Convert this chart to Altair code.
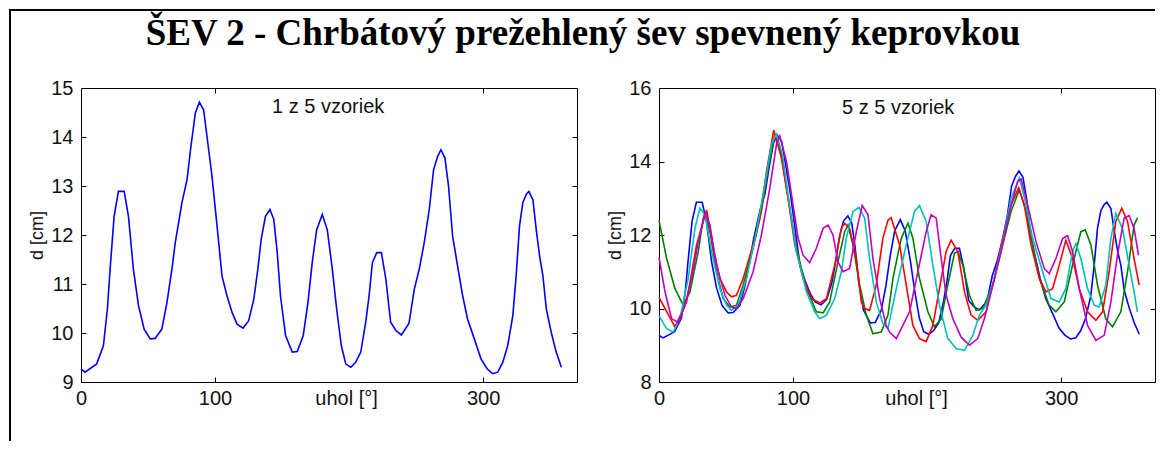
import altair as alt
import pandas as pd

TITLE = "ŠEV 2 - Chrbátový prežehlený šev spevnený keprovkou"
X_LABEL = "uhol [°]"
Y_LABEL = "d [cm]"
LEFT_NOTE = "1 z 5 vzoriek"
RIGHT_NOTE = "5 z 5 vzoriek"

X_TICKS = [0, 100, 200, 300]
X_TICKS_TOP = [100, 300]
LEFT_Y_TICKS = [9, 10, 11, 12, 13, 14, 15]
LEFT_Y_INNER = [10, 11, 12, 13, 14]
RIGHT_Y_TICKS = [8, 10, 12, 14, 16]
RIGHT_Y_INNER = [10, 12, 14]

SERIES = ["s1", "s2", "s3", "s4", "s5"]
COLORS = ["#0000FF", "#008000", "#FF0000", "#00BFBF", "#BF00BF"]

# sample 1 (blue) - shown alone in the left panel
s1_deg = [0, 3, 11.7, 16.7, 19.7, 21.7, 24.7, 27.9, 32.2, 35.4, 39.1, 42.9, 47.1, 51.6, 55.3,
          60.3, 64.1, 67.8, 70.3, 75.3, 79.1, 82.0, 85.3, 88.3, 91.5, 94.0, 97.7, 101.5, 105.2,
          108.9, 112.7, 116.4, 120.9, 125.1, 128.9, 131.9, 134.4, 137.6, 140.9, 143.8, 146.4,
          148.8, 152.6, 157.6, 161.3, 165.8, 169.3, 172.5, 175.8, 180.0, 183.7, 187.5, 190.7,
          194.2, 197.5, 201.2, 204.9, 208.7, 212.4, 214.9, 217.4, 220.6, 224.1, 227.4, 231.0,
          234.9, 239.0, 244.7, 248.6, 252.3, 256.0, 259.8, 263.0, 266.0, 268.5, 271.5, 274.2,
          277.2, 280.9, 284.7, 288.4, 293.4, 298.4, 302.9, 307.1, 310.9, 314.6, 318.3, 322.1,
          324.6, 327.1, 329.6, 332.1, 334.1, 337.1, 339.6, 342.1, 344.6, 347.1, 350.8, 354.5, 358.3]
s1_d = [9.27, 9.20, 9.37, 9.74, 10.49, 11.30, 12.38, 12.89, 12.89, 12.38, 11.30, 10.56, 10.08, 9.88, 9.89,
        10.08, 10.62, 11.30, 11.84, 12.66, 13.13, 13.81, 14.49, 14.71, 14.55, 14.01, 13.20, 12.18, 11.16,
        10.76, 10.42, 10.18, 10.10, 10.25, 10.69, 11.30, 11.91, 12.38, 12.52, 12.32, 11.64,
        10.76, 9.95, 9.61, 9.62, 9.95, 10.62, 11.44, 12.11, 12.42, 12.11, 11.30, 10.49,
        9.74, 9.37, 9.30, 9.40, 9.61, 10.22, 10.76, 11.44, 11.64, 11.64, 11.10, 10.22,
        10.05, 9.96, 10.20, 10.89, 11.30, 11.84, 12.52, 13.33, 13.60, 13.74, 13.57, 12.99,
        11.98, 11.37, 10.76, 10.28, 9.88, 9.47, 9.27, 9.17, 9.20, 9.40, 9.74, 10.35,
        11.16, 12.18, 12.66, 12.83, 12.89, 12.72, 12.11, 11.57, 11.16, 10.49, 10.01, 9.61, 9.30]

# sample 2 (green)
s2_deg = [0, 5.7, 11.9, 18.1, 23.1, 29.3, 33, 34.3, 38, 42.9, 47.9, 52.9, 57.8, 62.8, 70.2, 76.4,
          81.4, 86.4, 91.3, 96.3, 102.5, 110, 117.4, 122.4, 127.3, 133.5, 138.5, 141, 144.7, 149.7,
          154.6, 159.6, 165.8, 170.8, 174.5, 180.7, 185.7, 189.4, 194.3, 200.6, 205.5, 210.5, 215.4,
          220.4, 222.9, 226.6, 231.6, 236.5, 241.5, 249, 256.4, 262.6, 268.8, 273.8, 278.7, 283.7,
          291.1, 296.1, 302.3, 308.5, 314.7, 318, 322.2, 327.1, 333.3, 338.3, 344.5, 349.5, 354.4, 356.9]
s2_d = [12.4, 11.36, 10.54, 10.09, 10.45, 11.55, 12.46, 12.59, 12.09, 11.0, 10.27, 10.04, 10.09, 10.64, 11.64, 12.64,
        13.82, 14.73, 14.19, 13.0, 11.64, 10.54, 9.91, 9.88, 10.18, 11.27, 12.09, 12.27, 11.73, 10.64,
        9.82, 9.31, 9.36, 9.82, 10.82, 11.91, 12.32, 11.91, 10.82, 9.91, 9.5, 9.72, 10.64,
        11.5, 11.55, 11.18, 10.36, 9.95, 10.0, 10.64, 11.73, 12.64, 13.23, 12.64, 11.73, 10.82,
        10.09, 9.91, 10.18, 11.18, 12.09, 12.14, 11.73, 10.64, 9.72, 9.5, 9.91, 11.0, 12.27, 12.47]

# sample 3 (red)
s3_deg = [0, 11.9, 20.6, 28, 35.5, 40.5, 45.4, 50.4, 54.1, 57.8, 62.8, 70.2, 75.2, 80.2, 85.6, 91.3,
          96.3, 101.3, 107.5, 113.7, 119.9, 124.9, 131.1, 136, 138.5, 142.2, 147.2, 150.9, 153.4, 157.1,
          162.1, 167, 170.8, 173.2, 179.5, 184.4, 189.4, 194.3, 199.3, 204.3, 209.2, 214.2, 217.9,
          222.9, 227.9, 232.8, 237.8, 244, 250.2, 256.4, 262.6, 268.3, 272.5, 277.5, 283.7, 288.7,
          293.6, 298.6, 303.5, 308.5, 313.5, 319.7, 325.9, 330.9, 335.8, 340.8, 345.2, 349.5, 354.4, 358.2]
s3_d = [10.3, 9.5, 10.18, 11.73, 12.68, 11.64, 10.82, 10.45, 10.32, 10.36, 10.82, 11.73, 12.46, 13.73, 14.85, 14.10,
        13.0, 11.73, 10.82, 10.27, 10.15, 10.27, 11.18, 12.18, 12.32, 12.18, 11.36, 10.18, 10.0, 9.95,
        10.64, 11.91, 12.4, 12.47, 11.73, 10.64, 9.54, 9.18, 9.1, 9.54, 10.54, 11.55, 11.86,
        11.55, 10.45, 9.82, 9.68, 9.91, 10.82, 11.91, 12.82, 13.28, 12.82, 11.73, 10.82, 10.45,
        10.54, 11.18, 11.86, 11.36, 10.54, 9.91, 9.68, 9.91, 11.0, 12.37, 12.73, 12.37, 11.36, 10.64]

# sample 4 (cyan)
s4_deg = [0, 5.7, 10.7, 15.6, 21.8, 26.8, 30.5, 34.3, 39.2, 45.4, 50.4, 54.1, 59.1, 65.3, 72.7, 78.9,
          83.9, 87.6, 92.1, 97, 102.5, 110, 116.2, 119.9, 124.9, 131.1, 136, 139.7, 144.7, 149.2,
          153.4, 157.1, 162.1, 167, 170.8, 177, 184.4, 190.6, 194.3, 199.3, 204.3, 209.2, 215.4,
          221.7, 227.9, 234.1, 239, 244, 250.2, 256.4, 262.6, 268.8, 273.8, 278.7, 286.2, 292.4,
          298.6, 303.5, 308.5, 311, 314.7, 319.7, 324.7, 328.4, 333.3, 337.1, 340.8, 345.7, 350.7, 354.4, 356.9]
s4_d = [9.8, 9.45, 9.36, 9.72, 10.82, 12.18, 12.73, 12.55, 11.55, 10.54, 10.09, 9.95, 10.09, 10.82, 12.09, 13.37,
        14.46, 14.75, 14.19, 12.91, 11.55, 10.45, 9.91, 9.72, 9.82, 10.27, 11.0, 11.91, 12.64, 12.75,
        12.46, 11.36, 10.18, 9.59, 9.45, 10.54, 11.73, 12.64, 12.8, 12.37, 11.18, 10.09, 9.18,
        8.91, 8.86, 9.27, 9.82, 10.09, 10.82, 11.82, 13.0, 13.55, 12.82, 11.91, 11.0, 10.27,
        10.18, 10.54, 11.55, 11.77, 11.36, 10.54, 10.09, 10.04, 10.64, 11.91, 12.59, 12.18, 11.18, 10.45, 9.91]

# sample 5 (magenta)
s5_deg = [0, 4.5, 9.4, 14.4, 19.4, 24.3, 29.3, 34.3, 38, 42.9, 49.2, 54.1, 57.8, 62.8, 70.2, 76.4,
          82.7, 87.6, 90.1, 95.1, 100, 103.8, 107.5, 112.4, 117.4, 122.4, 126.1, 129.8, 133.5, 137.3,
          142.2, 147.2, 151.6, 155.9, 159.6, 164.6, 169.5, 172, 177, 186.9, 193.1, 199.3, 203, 206.8,
          210.5, 214.2, 219.2, 225.4, 231.6, 237.8, 242.7, 249, 255.2, 261.4, 267.6, 270.1, 275, 281.2,
          287.4, 291.1, 296.1, 301.1, 304.8, 308.5, 313.5, 319.7, 325.9, 332.1, 337.1, 342, 347, 350.7,
          354.4, 357.7]
s5_d = [11.4, 10.45, 9.72, 9.62, 10.09, 10.82, 11.82, 12.59, 12.27, 11.18, 10.36, 10.04, 10.0, 10.27, 11.0, 12.0,
        13.28, 14.46, 14.69, 14.0, 12.82, 11.91, 11.45, 11.25, 11.64, 12.18, 12.27, 12.0, 11.27, 11.0,
        11.09, 12.09, 12.8, 12.55, 11.36, 10.27, 9.54, 9.36, 9.18, 9.91, 11.0, 12.09, 12.55, 12.46,
        11.36, 10.36, 9.72, 9.22, 9.0, 9.18, 9.72, 10.64, 11.55, 12.64, 13.46, 13.52, 12.82, 11.82,
        11.09, 10.95, 11.36, 11.91, 11.98, 11.55, 10.54, 9.54, 9.13, 9.27, 10.18, 11.45, 12.46, 12.53,
        12.18, 11.45]

X_DOMAIN = [0, 370]
LEFT_Y_DOMAIN = [9, 15]
RIGHT_Y_DOMAIN = [8, 16]
LEFT_NOTE_POS = (142.5, 14.48)
RIGHT_NOTE_POS = (136.5, 15.3)

W, H = 496, 294
LABEL_FONT = "Liberation Sans"


def frame(series_list, ydom, yticks, yinner, note, note_pos, border, xlabel_shift):
    df = pd.concat(
        [pd.DataFrame({"deg": dg, "d": dv, "s": name, "i": range(len(dg))})
         for name, dg, dv in series_list],
        ignore_index=True,
    )
    xs = alt.Scale(domain=X_DOMAIN, nice=False, zero=False)
    ys = alt.Scale(domain=ydom, nice=False, zero=False)
    bottom = alt.Axis(
        orient="bottom", values=X_TICKS, title=None, domain=False, grid=False,
        offset=-5, tickSize=5, labelPadding=6, labelFlush=False, labelOverlap=False,
        labelExpr="datum.value == 200 ? '" + X_LABEL + "' : datum.label",
        tickOpacity={"condition": {"test": "datum.value == 200", "value": 0}, "value": 1},
        labelOffset={"condition": {"test": "datum.value == 200", "value": xlabel_shift}, "value": 0},
    )
    left = alt.Axis(
        orient="left", values=yticks, title=Y_LABEL, domain=False, grid=False,
        offset=-5, tickSize=5, labelPadding=8, labelFlush=False, labelOverlap=False,
        titlePadding=4,
    )
    top = alt.Axis(orient="top", values=X_TICKS_TOP, title=None, labels=False,
                   domain=False, grid=False, offset=-5, tickSize=5)
    right = alt.Axis(orient="right", values=yinner, title=None, labels=False,
                     domain=False, grid=False, offset=-5, tickSize=5)

    lines = alt.Chart(df).mark_line(strokeWidth=1.6).encode(
        x=alt.X("deg:Q", scale=xs, axis=bottom),
        y=alt.Y("d:Q", scale=ys, axis=left),
        color=alt.Color("s:N", scale=alt.Scale(domain=SERIES, range=COLORS), legend=None),
        order=alt.Order("i:Q"),
    )
    note_df = pd.DataFrame({"deg": [note_pos[0]], "d": [note_pos[1]], "t": [note]})
    text = alt.Chart(note_df).mark_text(
        align="left", baseline="alphabetic", font=LABEL_FONT, fontSize=20, color="#111111"
    ).encode(
        x=alt.X("deg:Q", scale=xs, axis=top),
        y=alt.Y("d:Q", scale=ys, axis=right),
        text="t:N",
    )
    layers = [lines, text]
    if border:
        one = pd.DataFrame({"k": [0]})
        top_rule = alt.Chart(one).mark_rule(color="black", strokeWidth=2, strokeCap="square").encode(
            x=alt.value(-71), x2=alt.value(1073), y=alt.value(-78))
        left_rule = alt.Chart(one).mark_rule(color="black", strokeWidth=2, strokeCap="square").encode(
            x=alt.value(-71), y=alt.value(-78), y2=alt.value(352))
        heading = alt.Chart(pd.DataFrame({"t": [TITLE]})).mark_text(
            align="center", baseline="alphabetic", font="Liberation Serif", fontSize=37,
            fontWeight="bold", color="black",
        ).encode(x=alt.value(502), y=alt.value(-43), text="t:N")
        layers += [top_rule, left_rule, heading]
    return alt.layer(*layers).resolve_axis(x="independent", y="independent").properties(
        width=W, height=H)


left_panel = frame([("s1", s1_deg, s1_d)], LEFT_Y_DOMAIN, LEFT_Y_TICKS, LEFT_Y_INNER,
                   LEFT_NOTE, LEFT_NOTE_POS, True, -3)
right_panel = frame([("s1", s1_deg, s1_d), ("s2", s2_deg, s2_d), ("s3", s3_deg, s3_d),
                     ("s4", s4_deg, s4_d), ("s5", s5_deg, s5_d)],
                    RIGHT_Y_DOMAIN, RIGHT_Y_TICKS, RIGHT_Y_INNER, RIGHT_NOTE, RIGHT_NOTE_POS, False, -11)

chart = alt.hconcat(left_panel, right_panel, spacing=82, bounds="flush").properties(
    padding=0,
).configure_view(stroke="black", strokeWidth=1).configure_axis(
    labelFont=LABEL_FONT, labelFontSize=20, labelColor="#111111",
    titleFont=LABEL_FONT, titleFontSize=18, titleFontWeight="normal", titleColor="#111111",
    tickColor="black", tickWidth=1,
)

chart.save("out.html", embed_options={"renderer": "svg", "actions": False})
